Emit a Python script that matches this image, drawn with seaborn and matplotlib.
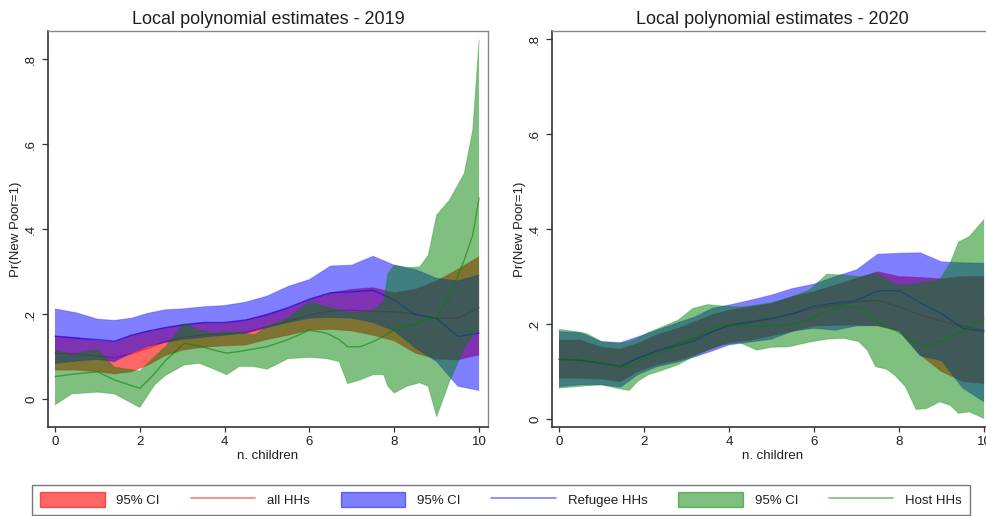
import numpy as np
import pandas as pd
import matplotlib
matplotlib.use("Agg")
import matplotlib.pyplot as plt
from matplotlib.patches import Patch
from matplotlib.lines import Line2D
import seaborn as sns

# ---------------- data ----------------
titles = ["Local polynomial estimates - 2019", "Local polynomial estimates - 2020"]
xlabel = "n. children"
ylabel = "Pr(New Poor=1)"
xticks = [0, 2, 4, 6, 8, 10]
yticks = [0, 0.2, 0.4, 0.6, 0.8]
ytick_labels = ["0", ".2", ".4", ".6", ".8"]
legend_labels = ["95% CI", "all HHs", "95% CI", "Refugee HHs", "95% CI", "Host HHs"]

# 2019 - all HHs
x_all_19 = [0, 0.5, 1, 1.4, 1.8, 2.2, 2.6, 3, 3.5, 4, 4.5, 5, 5.5, 6, 6.5, 7, 7.5, 8, 8.5, 9, 9.5, 10]
hi_all_19 = [0.148, 0.145, 0.138, 0.135, 0.150, 0.160, 0.168, 0.175, 0.180, 0.180, 0.186, 0.200, 0.215, 0.235, 0.250, 0.258, 0.262, 0.250, 0.258, 0.278, 0.305, 0.335]
lo_all_19 = [0.068, 0.068, 0.064, 0.059, 0.064, 0.080, 0.102, 0.115, 0.122, 0.125, 0.127, 0.140, 0.150, 0.162, 0.164, 0.160, 0.150, 0.137, 0.108, 0.094, 0.092, 0.104]
est_all_19 = [0.108, 0.106, 0.101, 0.097, 0.106, 0.120, 0.135, 0.145, 0.151, 0.153, 0.157, 0.170, 0.183, 0.198, 0.207, 0.209, 0.206, 0.205, 0.200, 0.190, 0.190, 0.215]

# 2019 - Refugee HHs
x_ref_19 = [0, 0.5, 1, 1.4, 1.8, 2.2, 2.6, 3, 3.5, 4, 4.5, 5, 5.5, 6, 6.5, 7, 7.5, 8, 8.5, 9, 9.5, 10]
hi_ref_19 = [0.212, 0.203, 0.188, 0.185, 0.190, 0.202, 0.210, 0.212, 0.217, 0.220, 0.228, 0.242, 0.265, 0.281, 0.313, 0.315, 0.336, 0.315, 0.305, 0.284, 0.278, 0.292]
lo_ref_19 = [0.084, 0.089, 0.093, 0.088, 0.108, 0.124, 0.133, 0.140, 0.145, 0.150, 0.155, 0.168, 0.180, 0.190, 0.192, 0.190, 0.180, 0.160, 0.120, 0.088, 0.030, 0.020]
est_ref_19 = [0.148, 0.143, 0.140, 0.136, 0.150, 0.160, 0.168, 0.174, 0.180, 0.180, 0.186, 0.198, 0.215, 0.235, 0.250, 0.252, 0.256, 0.233, 0.198, 0.190, 0.147, 0.155]

# 2019 - Host HHs
x_host_19 = [0, 0.4, 1.0, 1.4, 2.0, 2.35, 2.6, 3.05, 3.4, 3.75, 4.05, 4.35, 4.7, 5.0, 5.5, 6.0, 6.4, 6.7, 6.9, 7.2, 7.5, 7.75, 7.85, 8.0, 8.3, 8.6, 8.8, 9.0, 9.3, 9.65, 9.85, 10]
hi_host_19 = [0.115, 0.105, 0.117, 0.075, 0.066, 0.100, 0.123, 0.178, 0.162, 0.155, 0.158, 0.158, 0.151, 0.170, 0.190, 0.229, 0.217, 0.210, 0.205, 0.205, 0.209, 0.229, 0.295, 0.315, 0.309, 0.311, 0.338, 0.433, 0.468, 0.531, 0.633, 0.845]
lo_host_19 = [-0.014, 0.012, 0.016, 0.012, -0.020, 0.033, 0.055, 0.080, 0.084, 0.070, 0.057, 0.077, 0.076, 0.070, 0.095, 0.098, 0.095, 0.088, 0.036, 0.045, 0.057, 0.057, 0.030, 0.014, 0.030, 0.038, 0.030, -0.042, 0.040, 0.120, 0.150, 0.160]
est_host_19 = [0.053, 0.058, 0.064, 0.045, 0.025, 0.060, 0.090, 0.131, 0.125, 0.115, 0.108, 0.112, 0.118, 0.123, 0.140, 0.162, 0.155, 0.140, 0.123, 0.123, 0.135, 0.147, 0.155, 0.162, 0.170, 0.180, 0.188, 0.192, 0.240, 0.327, 0.386, 0.473]

# 2020 - all HHs
x_all_20 = [0, 0.5, 1, 1.45, 1.85, 2.3, 2.8, 3.2, 3.6, 4, 4.5, 5, 5.5, 6, 6.5, 7, 7.5, 8, 8.5, 9, 9.5, 10]
hi_all_20 = [0.166, 0.166, 0.151, 0.147, 0.159, 0.177, 0.191, 0.205, 0.219, 0.229, 0.236, 0.243, 0.258, 0.268, 0.282, 0.296, 0.310, 0.300, 0.298, 0.295, 0.300, 0.300]
lo_all_20 = [0.086, 0.086, 0.084, 0.079, 0.100, 0.114, 0.124, 0.135, 0.149, 0.161, 0.166, 0.175, 0.185, 0.196, 0.197, 0.198, 0.196, 0.186, 0.135, 0.100, 0.079, 0.075]
est_all_20 = [0.125, 0.124, 0.117, 0.112, 0.128, 0.145, 0.158, 0.170, 0.184, 0.195, 0.203, 0.210, 0.222, 0.233, 0.240, 0.247, 0.250, 0.236, 0.219, 0.206, 0.196, 0.187]

# 2020 - Refugee HHs
x_ref_20 = [0, 0.5, 1, 1.45, 1.85, 2.3, 2.8, 3.2, 3.6, 4, 4.5, 5, 5.5, 6, 6.5, 7, 7.5, 8, 8.5, 9, 9.5, 10]
hi_ref_20 = [0.184, 0.182, 0.163, 0.161, 0.173, 0.187, 0.203, 0.215, 0.233, 0.240, 0.250, 0.261, 0.275, 0.284, 0.300, 0.314, 0.347, 0.349, 0.350, 0.331, 0.329, 0.328]
lo_ref_20 = [0.068, 0.072, 0.072, 0.067, 0.093, 0.110, 0.120, 0.131, 0.143, 0.156, 0.162, 0.168, 0.185, 0.191, 0.187, 0.196, 0.197, 0.185, 0.133, 0.123, 0.065, 0.036]
est_ref_20 = [0.126, 0.124, 0.117, 0.110, 0.128, 0.143, 0.155, 0.165, 0.183, 0.198, 0.205, 0.212, 0.222, 0.238, 0.244, 0.250, 0.270, 0.270, 0.245, 0.222, 0.191, 0.184]

# 2020 - Host HHs
x_host_20 = [0, 0.4, 0.65, 1.0, 1.4, 1.65, 1.85, 2.1, 2.45, 2.8, 3.15, 3.5, 3.85, 4.25, 4.65, 5.0, 5.4, 5.9, 6.3, 6.7, 7.05, 7.25, 7.45, 7.7, 7.9, 8.15, 8.4, 8.65, 8.95, 9.2, 9.4, 9.65, 10]
hi_host_20 = [0.189, 0.184, 0.180, 0.163, 0.159, 0.163, 0.170, 0.182, 0.195, 0.208, 0.233, 0.241, 0.238, 0.236, 0.240, 0.245, 0.255, 0.272, 0.305, 0.303, 0.300, 0.302, 0.308, 0.295, 0.284, 0.282, 0.285, 0.289, 0.293, 0.328, 0.373, 0.384, 0.420]
lo_host_20 = [0.065, 0.068, 0.070, 0.072, 0.064, 0.060, 0.079, 0.093, 0.103, 0.114, 0.131, 0.145, 0.156, 0.161, 0.145, 0.151, 0.152, 0.162, 0.168, 0.170, 0.163, 0.145, 0.110, 0.105, 0.092, 0.068, 0.020, 0.022, 0.036, 0.029, 0.012, 0.015, 0.001]
est_host_20 = [0.126, 0.126, 0.124, 0.118, 0.110, 0.109, 0.120, 0.133, 0.140, 0.155, 0.173, 0.187, 0.198, 0.197, 0.196, 0.196, 0.198, 0.210, 0.228, 0.238, 0.234, 0.225, 0.207, 0.195, 0.187, 0.175, 0.160, 0.152, 0.163, 0.170, 0.182, 0.192, 0.212]

# ---------------- style ----------------
sns.set_theme(style="white")
plt.rcParams["font.family"] = ["Liberation Sans", "DejaVu Sans"]

RED = "#ff0000"
BLUE = "#0000ff"
GREEN = "#008000"
BAND_ALPHA = {RED: 0.6, BLUE: 0.5, GREEN: 0.5}
TXT = "#1e1e1e"

fig = plt.figure(figsize=(9.86, 5.16), dpi=100)
fig.patch.set_facecolor("white")
ax1 = fig.add_axes([48 / 986, 89 / 516, 440 / 986, 396 / 516])
ax2 = fig.add_axes([552 / 986, 89 / 516, 441 / 986, 396 / 516])

panels = [
    (ax1, [(x_all_19, lo_all_19, est_all_19, hi_all_19, RED),
           (x_ref_19, lo_ref_19, est_ref_19, hi_ref_19, BLUE),
           (x_host_19, lo_host_19, est_host_19, hi_host_19, GREEN)],
     (-0.0659, 0.866)),
    (ax2, [(x_all_20, lo_all_20, est_all_20, hi_all_20, RED),
           (x_ref_20, lo_ref_20, est_ref_20, hi_ref_20, BLUE),
           (x_host_20, lo_host_20, est_host_20, hi_host_20, GREEN)],
     (-0.0168, 0.817)),
]

for i, (ax, bands, ylim) in enumerate(panels):
    ax.set_facecolor("white")
    z = 1
    for x, lo, est, hi, col in bands:
        a = BAND_ALPHA[col]
        ax.fill_between(x, lo, hi, facecolor=col, alpha=a, edgecolor="none", zorder=z)
        ax.plot(x, lo, color=col, alpha=a * 0.5, lw=0.8, zorder=z)
        ax.plot(x, hi, color=col, alpha=a * 0.5, lw=0.8, zorder=z)
        df = pd.DataFrame({"x": x, "y": est})
        sns.lineplot(data=df, x="x", y="y", ax=ax, color=col, alpha=0.55, lw=1.0,
                     estimator=None, sort=False, zorder=z + 1)
        z += 2
    ax.set_xlim(-0.165, 10.21)
    ax.set_ylim(*ylim)
    ax.set_xticks(xticks)
    ax.set_xticklabels([str(t) for t in xticks], fontsize=9.5, color=TXT)
    ax.set_yticks(yticks)
    ax.set_yticklabels(ytick_labels, fontsize=9.5, color=TXT, rotation=90, va="center")
    ax.tick_params(axis="x", direction="out", length=3.8, width=0.9, color="#333333", pad=3.0,
                   bottom=True)
    ax.tick_params(axis="y", direction="out", length=4.3, width=0.9, color="#333333", pad=3.5,
                   left=True)
    ax.set_xlabel(xlabel, fontsize=9.5, color=TXT, labelpad=1.0)
    ax.set_ylabel(ylabel, fontsize=9.5, color=TXT, labelpad=2.0)
    ax.set_title(titles[i], fontsize=13, color=TXT, pad=5)
    for s in ["left", "bottom"]:
        ax.spines[s].set_color("#333333")
        ax.spines[s].set_linewidth(1.2)
    for s in ["top", "right"]:
        ax.spines[s].set_color("#888888")
        ax.spines[s].set_linewidth(1.0)
    ax.grid(False)

handles = [
    Patch(facecolor=RED, alpha=0.6, edgecolor=RED),
    Line2D([0], [0], color=RED, alpha=0.5, lw=1.2),
    Patch(facecolor=BLUE, alpha=0.5, edgecolor=BLUE),
    Line2D([0], [0], color=BLUE, alpha=0.5, lw=1.2),
    Patch(facecolor=GREEN, alpha=0.5, edgecolor=GREEN),
    Line2D([0], [0], color=GREEN, alpha=0.5, lw=1.2),
]
leg = fig.legend(handles, legend_labels, ncol=6, mode="expand",
                 loc="lower left", bbox_to_anchor=(32 / 986, 1 / 516, 938 / 986, 31 / 516),
                 bbox_transform=fig.transFigure,
                 fontsize=9.5, handlelength=4.9, handleheight=1.3, handletextpad=0.9,
                 borderpad=0.6, borderaxespad=0.0, frameon=True, fancybox=False)
leg.get_frame().set_edgecolor("#555555")
leg.get_frame().set_linewidth(1.0)
for t in leg.get_texts():
    t.set_color(TXT)

fig.savefig("out.png", dpi=100, facecolor="white")
